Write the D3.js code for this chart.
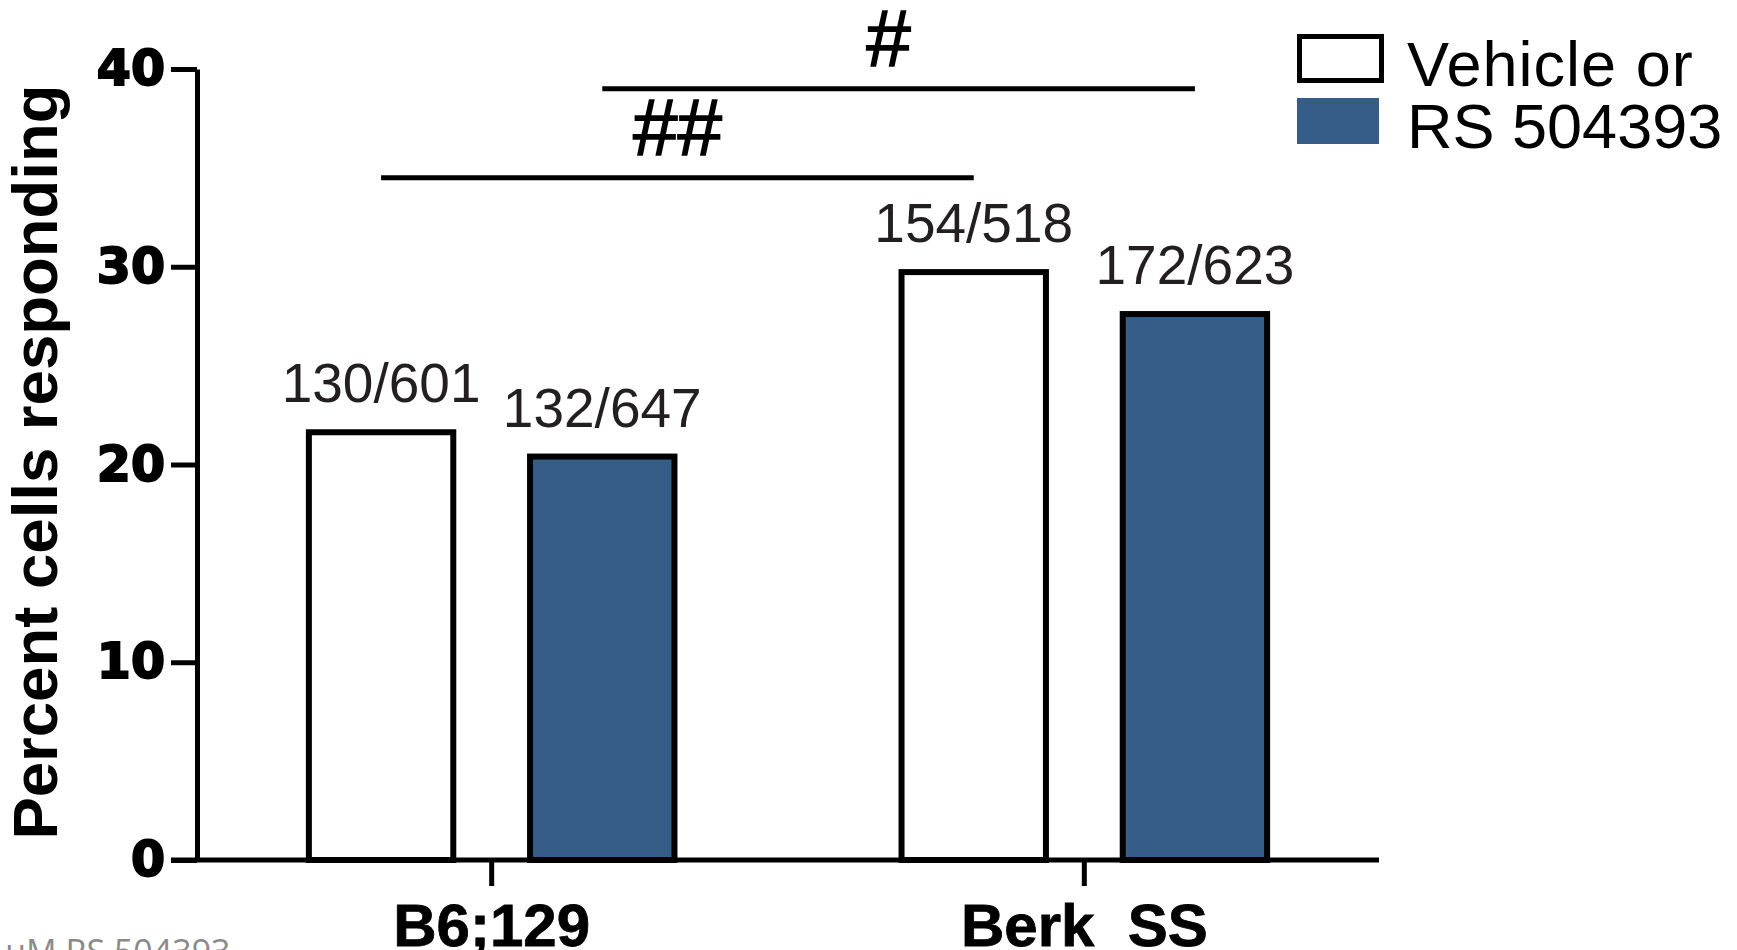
<!DOCTYPE html>
<html>
<head>
<meta charset="utf-8">
<script src="https://cdn.jsdelivr.net/npm/d3@7"></script>
<style>
  html, body { margin: 0; padding: 0; background: #ffffff; overflow: hidden; }
  svg { display: block; }
</style>
</head>
<body>
<svg id="chart" width="1737" height="950"></svg>
<script>
// Mouse strains on the x axis, treatment as the grouping series
const categories = ["B6;129", "Berk  SS"];
const series = ["Vehicle or", "RS 504393"];
const seriesFill = ["#ffffff", "#365d88"];

// Responding cells / cells recorded, per strain and treatment
const responders = [[130, 132], [154, 172]];
const totals = [[601, 647], [518, 623]];

const yTicks = [0, 10, 20, 30, 40];

// Significance brackets between groups (same series, different strain)
const brackets = [
  { series: "Vehicle or", level: 34.5, label: "##", shift: 0 },
  { series: "RS 504393", level: 39.0, label: "#", shift: -10 }
];

const rows = [];
categories.forEach((c, i) => {
  series.forEach((s, j) => {
    rows.push({
      category: c,
      series: s,
      n: responders[i][j],
      total: totals[i][j],
      value: responders[i][j] / totals[i][j] * 100
    });
  });
});

const svg = d3.select("#chart");

const x0 = d3.scaleBand().domain(categories).range([197, 1379])
  .paddingInner(0.373).paddingOuter(0.1837);
const x1 = d3.scaleBand().domain(series).range([0, x0.bandwidth()])
  .paddingInner(0.32).paddingOuter(0);
const y = d3.scaleLinear().domain([0, 40]).range([860, 69]);
const fill = d3.scaleOrdinal().domain(series).range(seriesFill);

const barStroke = 6;

// Bars
svg.append("g").selectAll("rect")
  .data(rows)
  .join("rect")
  .attr("x", d => x0(d.category) + x1(d.series) + barStroke / 2)
  .attr("width", x1.bandwidth() - barStroke)
  .attr("y", d => y(d.value))
  .attr("height", d => y(0) - y(d.value))
  .attr("fill", d => fill(d.series))
  .attr("stroke", "#000")
  .attr("stroke-width", barStroke);

// Count labels above the bars
svg.append("g").selectAll("text")
  .data(rows)
  .join("text")
  .attr("x", d => x0(d.category) + x1(d.series) + x1.bandwidth() / 2)
  .attr("y", d => y(d.value) - 30)
  .attr("text-anchor", "middle")
  .attr("font-family", "'Liberation Sans', Arial, sans-serif")
  .attr("font-size", 55)
  .attr("fill", "#231f20")
  .text(d => `${d.n}/${d.total}`);

// Y axis
const yAxis = svg.append("g")
  .attr("transform", "translate(197,0)")
  .call(d3.axisLeft(y).tickValues(yTicks).tickSize(26).tickSizeOuter(0).tickPadding(6));
yAxis.select(".domain").attr("stroke", "#000").attr("stroke-width", 5);
yAxis.selectAll(".tick line").attr("stroke", "#000").attr("stroke-width", 5);
yAxis.selectAll(".tick text")
  .attr("font-family", "'DejaVu Sans', sans-serif")
  .attr("font-weight", "bold")
  .attr("font-size", 49)
  .attr("fill", "#000")
  .attr("stroke", "#000")
  .attr("stroke-width", 2);

// X axis
const xAxis = svg.append("g")
  .attr("transform", "translate(0,860)")
  .call(d3.axisBottom(x0).tickSize(26).tickSizeOuter(0).tickPadding(17));
xAxis.select(".domain").attr("stroke", "#000").attr("stroke-width", 5)
  .attr("d", "M171,0H1379");
xAxis.selectAll(".tick line").attr("stroke", "#000").attr("stroke-width", 5);
xAxis.selectAll(".tick text")
  .attr("font-family", "'Liberation Sans', Arial, sans-serif")
  .attr("font-weight", "bold")
  .attr("font-size", 60)
  .attr("fill", "#000")
  .attr("stroke", "#000")
  .attr("stroke-width", 0.8)
  .style("white-space", "pre");

// Y axis title
svg.append("text")
  .attr("transform", "translate(57,462) rotate(-90)")
  .attr("text-anchor", "middle")
  .attr("font-family", "'Liberation Sans', Arial, sans-serif")
  .attr("font-weight", "bold")
  .attr("font-size", 63.5)
  .attr("fill", "#000")
  .text("Percent cells responding");

// Significance brackets
const barCenter = (c, s) => x0(c) + x1(s) + x1.bandwidth() / 2;
const bg = svg.append("g");
brackets.forEach(b => {
  const xa = barCenter(categories[0], b.series);
  const xb = barCenter(categories[1], b.series);
  bg.append("line")
    .attr("x1", xa).attr("x2", xb)
    .attr("y1", y(b.level)).attr("y2", y(b.level))
    .attr("stroke", "#000").attr("stroke-width", 5);
  bg.append("text")
    .attr("x", (xa + xb) / 2 + b.shift)
    .attr("y", y(b.level) - 23)
    .attr("text-anchor", "middle")
    .attr("font-family", "'Liberation Sans', Arial, sans-serif")
    .attr("font-size", 80)
    .attr("fill", "#000")
    .attr("stroke", "#000")
    .attr("stroke-width", 1.5)
    .text(b.label);
});

// Legend
const legend = svg.append("g");
series.forEach((s, i) => {
  const rowY = [59, 121][i];
  if (fill(s) === "#ffffff") {
    legend.append("rect")
      .attr("x", 1299.5).attr("y", rowY - 22.5)
      .attr("width", 82).attr("height", 44)
      .attr("fill", "#fff").attr("stroke", "#000").attr("stroke-width", 5);
  } else {
    legend.append("rect")
      .attr("x", 1297).attr("y", rowY - 23)
      .attr("width", 82).attr("height", 46)
      .attr("fill", fill(s));
  }
  legend.append("text")
    .attr("x", 1407)
    .attr("y", rowY + 27)
    .attr("font-family", "'Liberation Sans', Arial, sans-serif")
    .attr("font-size", 63)
    .attr("letter-spacing", i === 0 ? 1 : 0)
    .attr("fill", "#000")
    .text(s);
});

// Caption fragment at the lower-left edge
svg.append("text")
  .attr("x", 5)
  .attr("y", 964)
  .attr("font-family", "'Open Sans', sans-serif")
  .attr("font-size", 34)
  .attr("fill", "#8a8a8a")
  .text("μM RS 504393");
</script>
</body>
</html>
